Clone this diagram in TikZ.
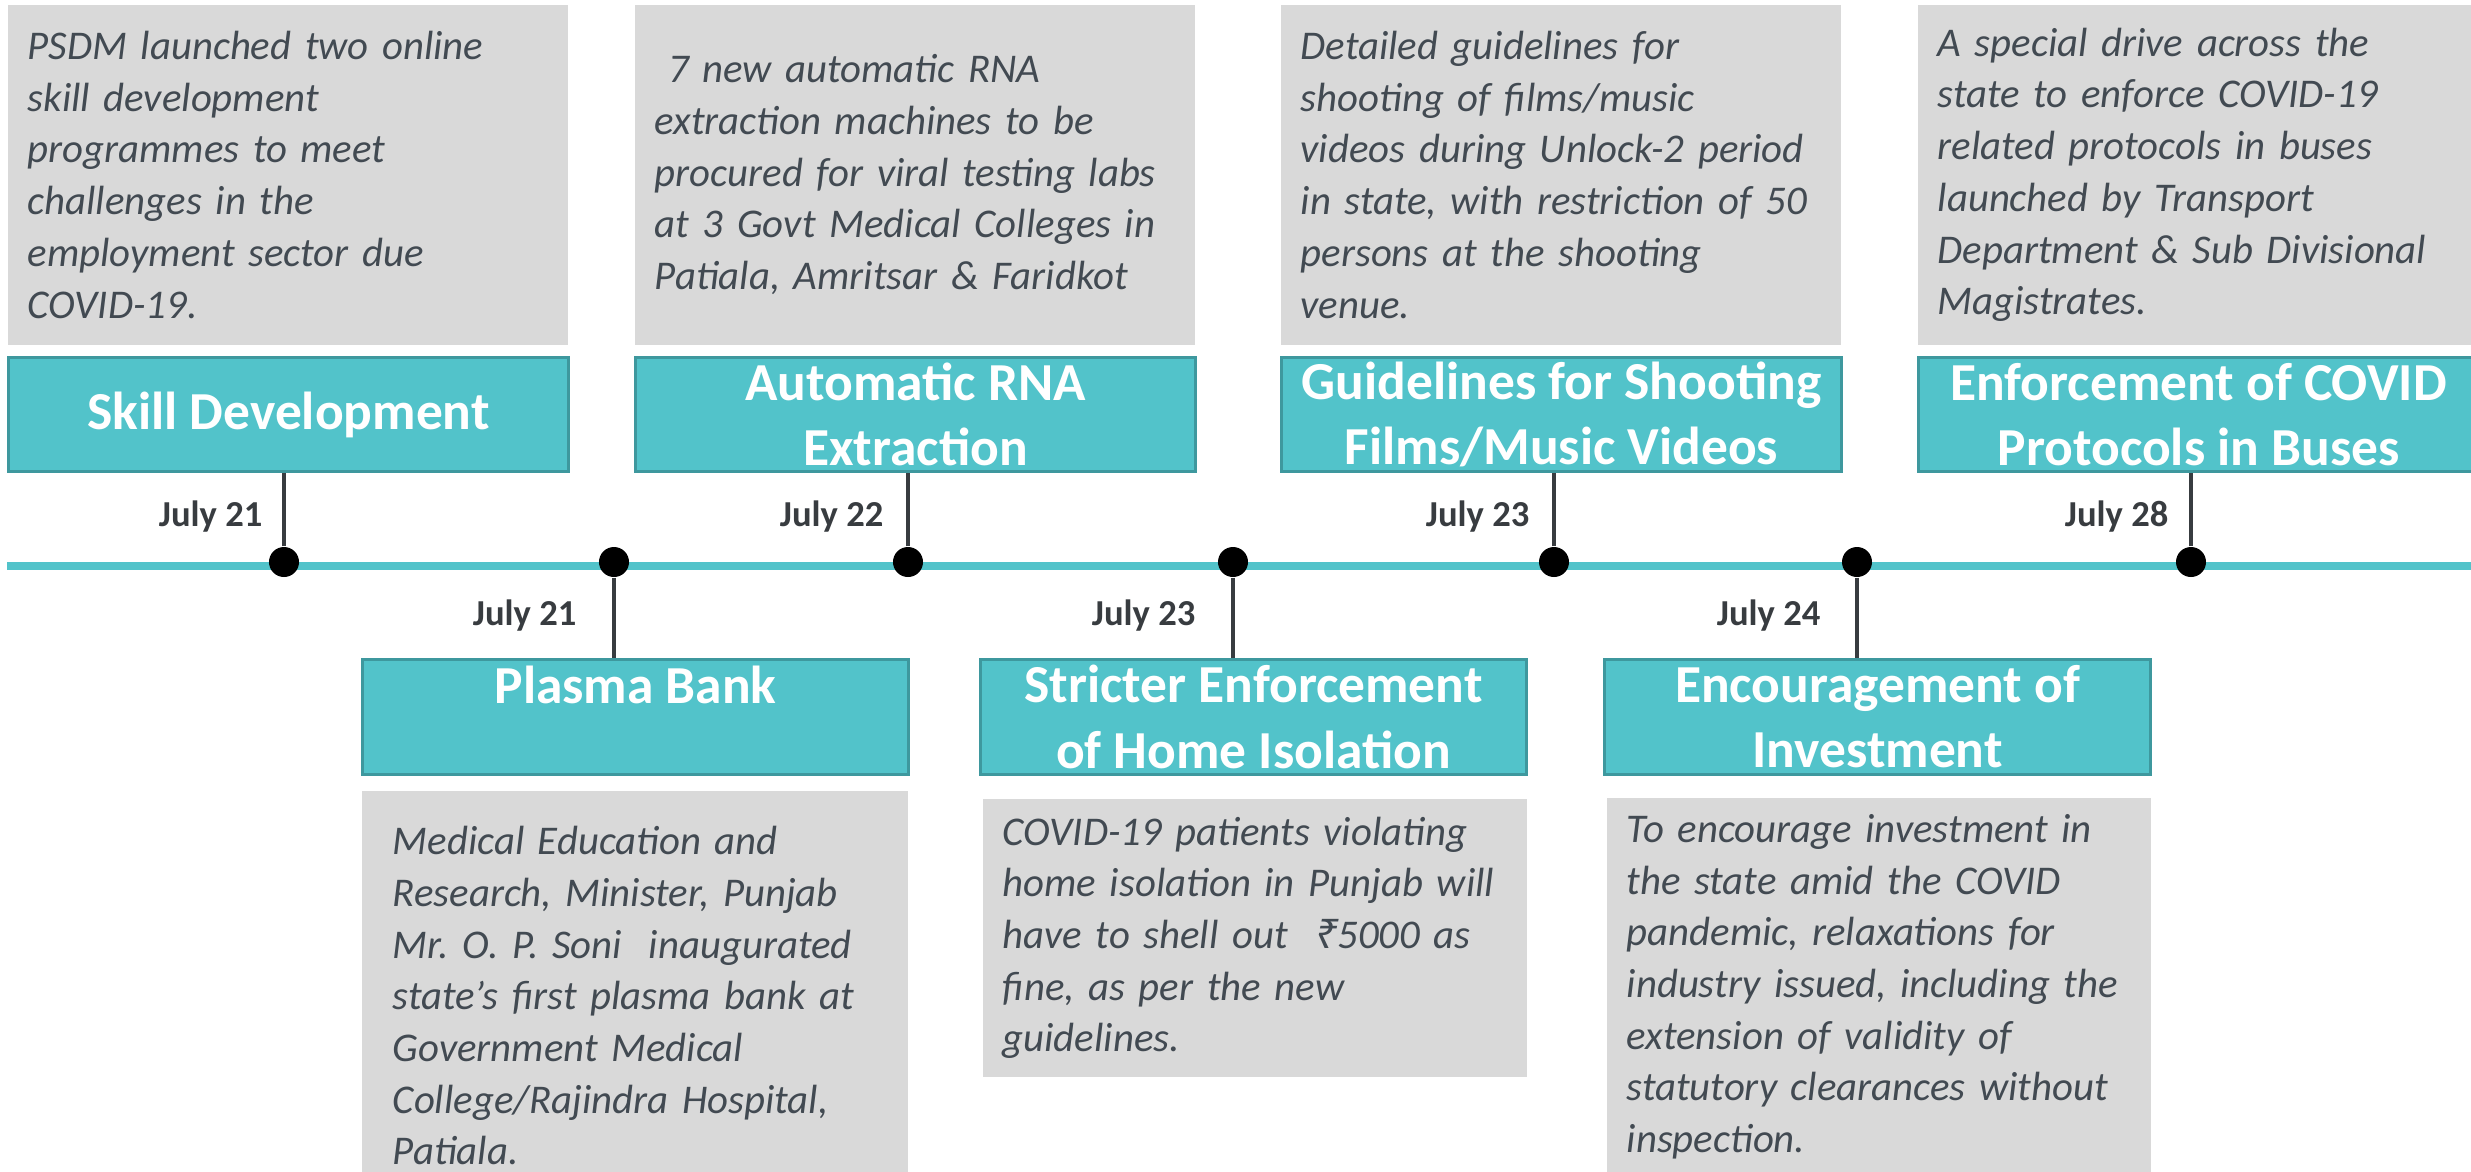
\documentclass[tikz,border=0pt]{standalone}
\usepackage{fontspec}
\setmainfont{Carlito}
\newfontfamily\rupeefont{Noto Sans}
\frenchspacing
\definecolor{tealfill}{RGB}{82,195,202}
\definecolor{tealedge}{RGB}{62,152,158}
\definecolor{greyfill}{RGB}{217,217,217}
\definecolor{bodytext}{RGB}{66,74,82}
\definecolor{stemgrey}{RGB}{56,60,64}
\tikzset{
  infobox/.style={fill=greyfill, anchor=north west, align=left, text width=5.2cm, inner xsep=0.2cm, inner ysep=0pt, minimum height=3.4cm, text=bodytext, font=\fontsize{11.6}{14.7}\selectfont\itshape},
  titlebox/.style={fill=tealfill, draw=tealedge, line width=0.8pt, anchor=north west, align=center, inner sep=0pt, minimum width=5.6cm, minimum height=1.14cm, text=white, font=\fontsize{15.2}{18.5}\selectfont\bfseries},
  datelabel/.style={anchor=east, inner sep=0pt, text=stemgrey, font=\fontsize{10.4}{12}\selectfont\bfseries},
  dot/.style={circle, fill=black, inner sep=0pt, minimum size=0.3cm},
  stem/.style={draw=stemgrey, line width=1.2pt},
  timeline/.style={draw=tealfill, line width=2pt}
}
\begin{document}
\begin{tikzpicture}[x=0.01cm, y=-0.01cm]
\clip (0,0) rectangle (2471,1172);
% upper events
\node[infobox] (g1) at (7,4) {PSDM launched two online\\ skill development\\ programmes to meet\\ challenges in the\\ employment sector due\\ COVID-19.};
\node[infobox] (g2) at (634,4) {~7 new automatic RNA\\ extraction machines to be\\ procured for viral testing labs\\ at 3 Govt Medical Colleges in\\ Patiala, Amritsar \& Faridkot};
\node[infobox] (g3) at (1280,4) {Detailed guidelines for\\ shooting of films/music\\ videos during Unlock-2 period\\ in state, with restriction of 50\\ persons at the shooting\\ venue.};
\node[infobox] (g4) at (1917,4) {A special drive across the\\ state to enforce COVID-19\\ related protocols in buses\\ launched by Transport\\ Department \& Sub Divisional\\ Magistrates.};
\node[titlebox] (t1) at (7,356) {Skill Development};
\node[titlebox] (t2) at (634,356) {Automatic RNA\\ Extraction};
\node[titlebox] (t3) at (1280,356) {Guidelines for Shooting\\ Films/Music Videos};
\node[titlebox] (t4) at (1917,356) {Enforcement of COVID\\ Protocols in Buses};
% lower events
\node[titlebox, minimum width=5.46cm, minimum height=1.15cm] (t5) at (361,658) {Plasma Bank\\ ~};
\node[titlebox, minimum width=5.46cm, minimum height=1.15cm] (t6) at (979,658) {Stricter Enforcement\\ of Home Isolation};
\node[titlebox, minimum width=5.46cm, minimum height=1.15cm] (t7) at (1603,658) {Encouragement of\\ Investment};
\node[infobox, text width=4.84cm, inner xsep=0.31cm, minimum height=4.1cm] (g5) at (361,790) {Medical Education and\\ Research, Minister, Punjab\\ Mr. O. P. Soni\ \ inaugurated\\ state's first plasma bank at\\ Government Medical\\ College/Rajindra Hospital,\\ Patiala.};
\node[infobox, text width=5.04cm, minimum height=2.78cm] (g6) at (982,798) {COVID-19 patients violating\\ home isolation in Punjab will\\ have to shell out\ \ {\rupeefont\itshape ₹}5000 as\\ fine, as per the new\\ guidelines.};
\node[infobox, text width=5.04cm, minimum height=3.78cm] (g7) at (1606,797) {To encourage investment in\\ the state amid the COVID\\ pandemic, relaxations for\\ industry issued, including the\\ extension of validity of\\ statutory clearances without\\ inspection.};
% time axis
\coordinate (ta) at (7,566);
\coordinate (tb) at (2471,566);
\draw[timeline] (ta) -- (tb);
\node[dot] (d1) at (284,562) {};
\node[dot] (d2) at (614,562) {};
\node[dot] (d3) at (908,562) {};
\node[dot] (d4) at (1233,562) {};
\node[dot] (d5) at (1554,562) {};
\node[dot] (d6) at (1857,562) {};
\node[dot] (d7) at (2191,562) {};
\draw[stem] (d1) -- (t1.south -| d1);
\draw[stem] (d3) -- (t2.south -| d3);
\draw[stem] (d5) -- (t3.south -| d5);
\draw[stem] (d7) -- (t4.south -| d7);
\draw[stem] (d2) -- (t5.north -| d2);
\draw[stem] (d4) -- (t6.north -| d4);
\draw[stem] (d6) -- (t7.north -| d6);
\node[datelabel] (l1) at (263,517) {July 21};
\node[datelabel] (l3) at (884,517) {July 22};
\node[datelabel] (l5) at (1530,517) {July 23};
\node[datelabel] (l7) at (2169,517) {July 28};
\node[datelabel] (l2) at (577,616) {July 21};
\node[datelabel] (l4) at (1196,616) {July 23};
\node[datelabel] (l6) at (1821,616) {July 24};
\end{tikzpicture}
\end{document}
